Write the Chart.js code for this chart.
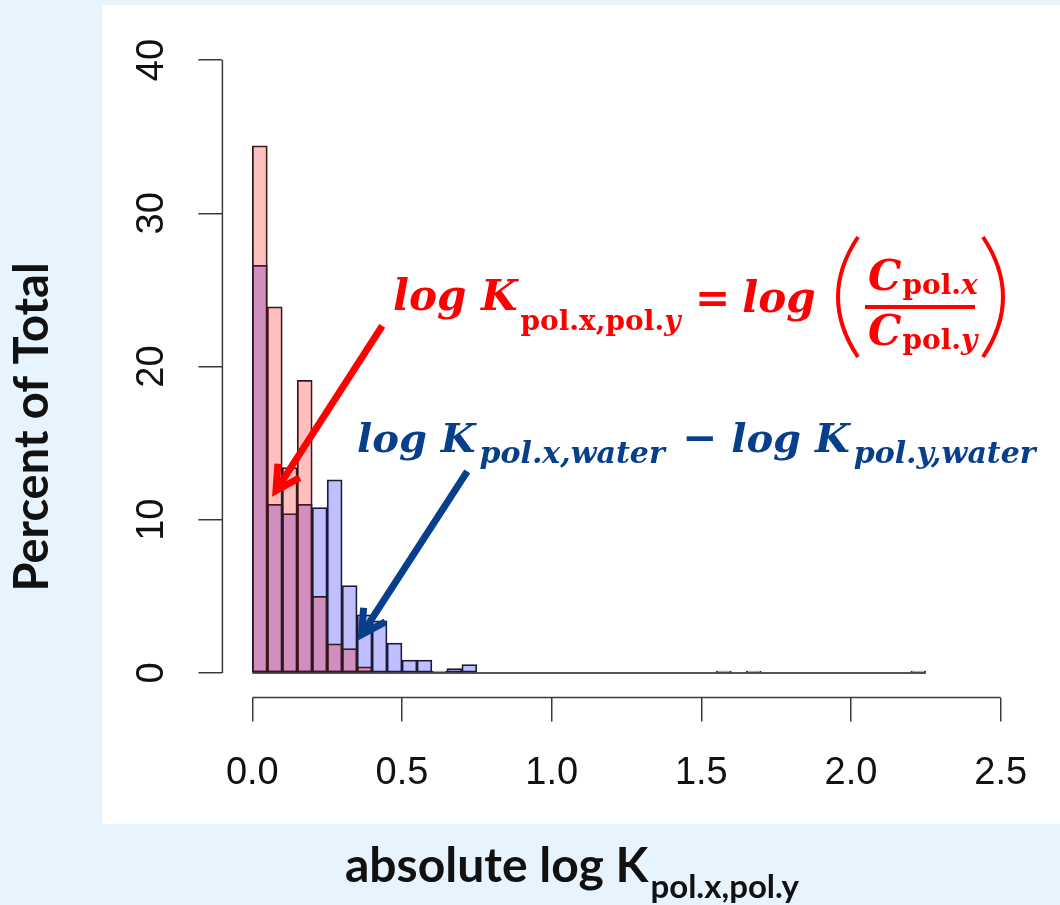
<!DOCTYPE html>
<html>
<head>
<meta charset="utf-8">
<script src="https://cdn.jsdelivr.net/npm/chart.js@4.4.0/dist/chart.umd.min.js"></script>
<style>
  body { margin: 0; background: #e7f4fd; }
  canvas { display: block; }
</style>
</head>
<body>
<canvas id="hist" width="1060" height="905"></canvas>
<script>
// histogram bins (lower edge of each bin, bin width 0.05)
var binWidth = 0.05;
var binStarts = [0.00, 0.05, 0.10, 0.15, 0.20, 0.25, 0.30, 0.35, 0.40, 0.45,
                 0.50, 0.55, 0.60, 0.65, 0.70, 0.75, 0.80, 0.85, 0.90, 0.95,
                 1.00, 1.05, 1.10, 1.15, 1.20, 1.25, 1.30, 1.35, 1.40, 1.45,
                 1.50, 1.55, 1.60, 1.65, 1.70, 1.75, 1.80, 1.85, 1.90, 1.95,
                 2.00, 2.05, 2.10, 2.15, 2.20];
// percent of total, log K pol.x,pol.y (red)
var polPolPct = [34.4, 23.9, 13.4, 19.1, 5.0, 1.9, 1.6, 0.4, 0, 0,
                 0, 0, 0, 0, 0, 0, 0, 0, 0, 0,
                 0, 0, 0, 0, 0, 0, 0, 0, 0, 0,
                 0, 0.12, 0, 0.12, 0, 0, 0, 0, 0, 0,
                 0, 0, 0, 0, 0.12];
// percent of total, log K pol.x,water - log K pol.y,water (blue)
var waterPct = [26.6, 11.0, 10.4, 11.0, 10.8, 12.6, 5.7, 3.8, 3.4, 1.95,
                0.85, 0.85, 0.12, 0.28, 0.55, 0, 0, 0, 0, 0,
                0, 0, 0, 0, 0, 0, 0, 0, 0, 0,
                0, 0, 0, 0, 0, 0, 0, 0, 0, 0,
                0, 0, 0, 0, 0];
var xTicks = [0, 0.5, 1, 1.5, 2, 2.5];
var yTicks = [0, 10, 20, 30, 40];

var RED = '#ff0000';
var BLUE = '#073f8a';
var EDGE = '#1e1e1e';
var AXIS = '#3a3a3a';

function toPoints(vals) {
  return binStarts.map(function (b, i) { return { x: b + binWidth / 2, y: vals[i] }; });
}

// light blue page + white panel
var panelPlugin = {
  id: 'panel',
  beforeDraw: function (chart) {
    var c = chart.ctx;
    c.save();
    c.fillStyle = '#e7f4fd';
    c.fillRect(0, 0, chart.width, chart.height);
    c.fillStyle = '#ffffff';
    c.fillRect(102, 5, 958, 819);
    c.restore();
  }
};

// R style axis lines, only from first to last tick
var axisLinePlugin = {
  id: 'axisLines',
  afterDraw: function (chart) {
    var c = chart.ctx, xs = chart.scales.x, ys = chart.scales.y, a = chart.chartArea;
    c.save();
    c.strokeStyle = AXIS;
    c.lineWidth = 1.5;
    c.beginPath();
    c.moveTo(a.left, ys.getPixelForValue(yTicks[0]));
    c.lineTo(a.left, ys.getPixelForValue(yTicks[yTicks.length - 1]));
    c.moveTo(xs.getPixelForValue(xTicks[0]), a.bottom);
    c.lineTo(xs.getPixelForValue(xTicks[xTicks.length - 1]), a.bottom);
    c.stroke();
    c.restore();
  }
};

function arrow(c, x1, y1, x2, y2, color) {
  var ang = Math.atan2(y2 - y1, x2 - x1);
  var wing = 27, spread = 0.5;
  c.strokeStyle = color;
  c.lineWidth = 7;
  c.lineCap = 'butt';
  c.lineJoin = 'miter';
  c.beginPath();
  c.moveTo(x1, y1);
  c.lineTo(x2 - 3 * Math.cos(ang), y2 - 3 * Math.sin(ang));
  c.stroke();
  c.beginPath();
  c.moveTo(x2 - wing * Math.cos(ang - spread), y2 - wing * Math.sin(ang - spread));
  c.lineTo(x2, y2);
  c.lineTo(x2 - wing * Math.cos(ang + spread), y2 - wing * Math.sin(ang + spread));
  c.stroke();
}

function runs(c, x, y, parts) {
  parts.forEach(function (p) {
    c.font = p.font;
    c.fillText(p.text, x, y + (p.dy || 0));
    x += c.measureText(p.text).width + (p.gap || 0);
  });
  return x;
}

var BI = 'italic bold 42px "DejaVu Serif"';
var B = 'bold 42px "DejaVu Serif"';
var SB = 'bold 28px "DejaVu Serif"';
var SBI = 'italic bold 28px "DejaVu Serif"';
var BI2 = 'italic bold 40px "DejaVu Serif"';
var SBI2 = 'italic bold 30px "DejaVu Serif"';

var annotationPlugin = {
  id: 'notes',
  afterDraw: function (chart) {
    var c = chart.ctx, xs = chart.scales.x, ys = chart.scales.y;
    c.save();
    // arrows, ends given in data units
    arrow(c, xs.getPixelForValue(0.434), ys.getPixelForValue(22.65),
             xs.getPixelForValue(0.079), ys.getPixelForValue(11.9), RED);
    arrow(c, xs.getPixelForValue(0.718), ys.getPixelForValue(13.15),
             xs.getPixelForValue(0.365), ys.getPixelForValue(2.5), BLUE);

    c.textAlign = 'left';
    c.textBaseline = 'alphabetic';

    // red equation
    c.fillStyle = RED;
    runs(c, 393, 310, [
      { text: 'log K', font: BI, gap: 3 },
      { text: 'pol.x,pol.', font: SB, dy: 20 },
      { text: 'y', font: SBI, dy: 20 }
    ]);
    runs(c, 695, 312, [
      { text: '=', font: B, gap: 12 },
      { text: 'log', font: BI }
    ]);
    runs(c, 868, 290, [
      { text: 'C', font: BI, gap: 1 },
      { text: 'pol.', font: SB, dy: 4 },
      { text: 'x', font: SBI, dy: 4 }
    ]);
    runs(c, 868, 345, [
      { text: 'C', font: BI, gap: 1 },
      { text: 'pol.', font: SB, dy: 4 },
      { text: 'y', font: SBI, dy: 4 }
    ]);
    c.fillRect(865, 305, 110, 4);
    // big parentheses
    c.strokeStyle = RED;
    c.lineWidth = 4;
    c.beginPath();
    c.moveTo(858, 237);
    c.quadraticCurveTo(818, 297, 858, 357);
    c.moveTo(983, 237);
    c.quadraticCurveTo(1023, 297, 983, 357);
    c.stroke();

    // blue expression
    c.fillStyle = BLUE;
    runs(c, 357, 452, [
      { text: 'log K', font: BI2, gap: 4 },
      { text: 'pol.x,water', font: SBI2, dy: 11 }
    ]);
    runs(c, 682, 452, [
      { text: '\u2212', font: B, gap: 14 },
      { text: 'log K', font: BI2, gap: 4 },
      { text: 'pol.y,water', font: SBI2, dy: 11 }
    ]);

    // axis titles
    c.fillStyle = '#111111';
    c.font = 'bold 47px Lato';
    c.save();
    c.translate(48, 427);
    c.rotate(-Math.PI / 2);
    c.textAlign = 'center';
    c.fillText('Percent of Total', 0, 0);
    c.restore();
    runs(c, 345, 882, [
      { text: 'absolute log K', font: 'bold 48px Lato', gap: 2 },
      { text: 'pol.x,pol.y', font: 'bold 33px Lato', dy: 16 }
    ]);
    c.restore();
  }
};

var ctx = document.getElementById('hist').getContext('2d');
var histChart = new Chart(ctx, {
  type: 'bar',
  data: {
    datasets: [
      {
        type: 'line',
        data: [{ x: binStarts[0], y: 0 }, { x: binStarts[binStarts.length - 1] + binWidth, y: 0 }],
        borderColor: EDGE,
        borderWidth: 1.6,
        pointRadius: 0,
        order: 0
      },
      {
        label: 'pol.x,pol.y',
        data: toPoints(polPolPct),
        backgroundColor: 'rgba(255, 0, 0, 0.25)',
        borderColor: EDGE,
        borderWidth: 1.1,
        borderSkipped: false,
        order: 1
      },
      {
        label: 'water',
        data: toPoints(waterPct),
        backgroundColor: 'rgba(0, 0, 255, 0.25)',
        borderColor: EDGE,
        borderWidth: 1.1,
        borderSkipped: false,
        order: 2
      }
    ]
  },
  options: {
    responsive: false,
    animation: false,
    devicePixelRatio: 1,
    layout: { padding: { top: 35.5, right: 29.4, bottom: 0, left: 0 } },
    datasets: { bar: { grouped: false, barPercentage: 1, categoryPercentage: 1 } },
    plugins: { legend: { display: false }, tooltip: { enabled: false } },
    scales: {
      x: {
        type: 'linear',
        min: -0.1,
        max: 2.6,
        offset: false,
        afterBuildTicks: function (s) { s.ticks = xTicks.map(function (v) { return { value: v }; }); },
        afterFit: function (s) { s.height = 905 - 697.5; s.paddingLeft = 0; s.paddingRight = 0; },
        grid: { offset: false, drawOnChartArea: false, drawTicks: true, tickLength: 24, color: AXIS, lineWidth: 1.5 },
        border: { display: false },
        ticks: {
          autoSkip: false, maxRotation: 0, padding: 29,
          font: { family: 'Liberation Sans', size: 38 }, color: '#111111',
          callback: function (v) { return Number(v).toFixed(1); }
        }
      },
      y: {
        min: -1.6,
        max: 41.6,
        afterBuildTicks: function (s) { s.ticks = yTicks.map(function (v) { return { value: v }; }); },
        afterFit: function (s) { s.width = 222.4; s.paddingTop = 0; s.paddingBottom = 0; },
        grid: { drawOnChartArea: false, drawTicks: true, tickLength: 24, color: AXIS, lineWidth: 1.5 },
        border: { display: false },
        ticks: {
          minRotation: 90, maxRotation: 90, crossAlign: 'center', padding: 25,
          font: { family: 'Liberation Sans', size: 38 }, color: '#111111',
          callback: function (v) { return String(v); }
        }
      }
    }
  },
  plugins: [panelPlugin, axisLinePlugin, annotationPlugin]
});
</script>
</body>
</html>
